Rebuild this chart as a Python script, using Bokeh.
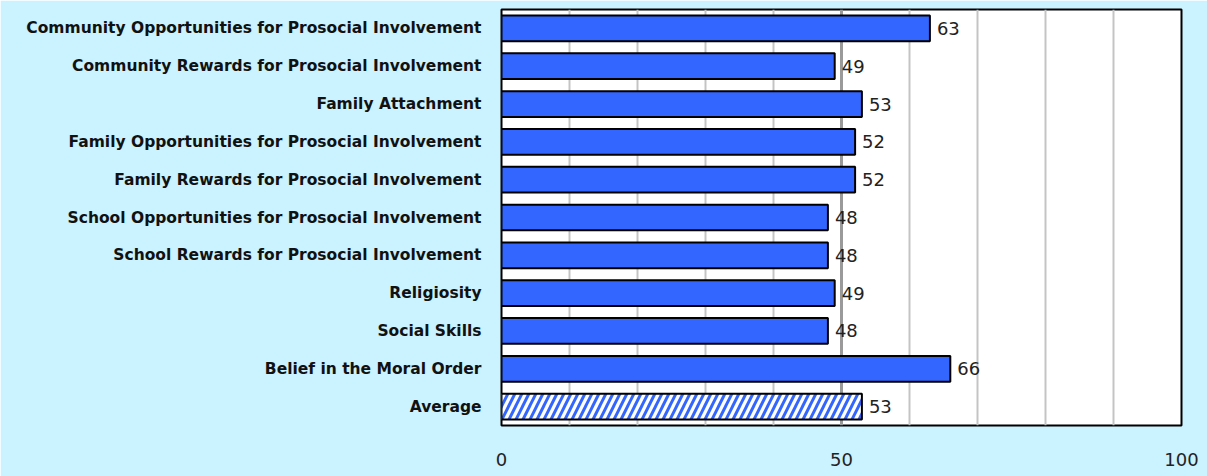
from bokeh.plotting import figure
from bokeh.models import FactorRange, FixedTicker, Span, ColumnDataSource, Range1d
from bokeh.core.properties import value
from bokeh.embed import file_html
from bokeh.resources import INLINE

categories = [
    "Community Opportunities for Prosocial Involvement",
    "Community Rewards for Prosocial Involvement",
    "Family Attachment",
    "Family Opportunities for Prosocial Involvement",
    "Family Rewards for Prosocial Involvement",
    "School Opportunities for Prosocial Involvement",
    "School Rewards for Prosocial Involvement",
    "Religiosity",
    "Social Skills",
    "Belief in the Moral Order",
]
values = [63, 49, 53, 52, 52, 48, 48, 49, 48, 66]
average_label = "Average"
average_value = 53
x_ticks = [0, 50, 100]
grid_ticks = [10, 20, 30, 40, 60, 70, 80, 90]

BG = "#CAF2FF"
BLUE = "#3366FF"
LABEL_FONT = "DejaVu Sans"
NUM_FONT = "DejaVu Sans"

all_cats = categories + [average_label]

p = figure(
    width=1207, height=476,
    y_range=FactorRange(factors=list(reversed(all_cats))),
    x_range=Range1d(0, 100),
    output_backend="svg", toolbar_location=None,
    min_border_left=501, min_border_right=26, min_border_top=9, min_border_bottom=51,
)
p.background_fill_color = "white"
p.border_fill_color = BG
p.outline_line_color = "black"
p.outline_line_width = 2

p.ygrid.grid_line_color = None
p.xgrid.ticker = FixedTicker(ticks=grid_ticks)
p.xgrid.grid_line_color = "#C4C4C4"
p.xgrid.grid_line_width = 2

p.add_layout(Span(location=50, dimension="height", line_color="#9A9A9A",
                  line_width=3, level="underlay"))

src = ColumnDataSource(dict(y=categories, v=values))
p.hbar(y="y", right="v", left=0, height=0.68, source=src,
       fill_color=BLUE, line_color="black", line_width=2)

asrc = ColumnDataSource(dict(y=[average_label], v=[average_value]))
p.hbar(y="y", right="v", left=0, height=0.68, source=asrc,
       fill_color="white", line_color="black", line_width=2,
       hatch_pattern="/", hatch_color=BLUE, hatch_weight=3, hatch_scale=14)

lsrc = ColumnDataSource(dict(y=all_cats, v=values + [average_value],
                             t=[str(v) for v in values + [average_value]]))
p.text(x="v", y="y", text="t", source=lsrc, x_offset=7,
       text_align="left", text_baseline="middle",
       text_font=value(NUM_FONT), text_font_size="18px", text_color="#222222")

p.xaxis.ticker = FixedTicker(ticks=x_ticks)
p.xaxis.axis_line_color = None
p.xaxis.major_tick_line_color = None
p.xaxis.minor_tick_line_color = None
p.xaxis.major_label_standoff = 21
p.xaxis.major_label_text_font = NUM_FONT
p.xaxis.major_label_text_font_size = "18px"
p.xaxis.major_label_text_color = "#222222"

p.yaxis.axis_line_color = None
p.yaxis.major_tick_line_color = None
p.yaxis.minor_tick_line_color = None
p.yaxis.major_label_standoff = 14
p.yaxis.major_label_text_font = LABEL_FONT
p.yaxis.major_label_text_font_size = "15.5px"
p.yaxis.major_label_text_font_style = "bold"
p.yaxis.major_label_text_color = "#111111"

html = file_html(p, INLINE)
open("out.html", "w").write(html)
